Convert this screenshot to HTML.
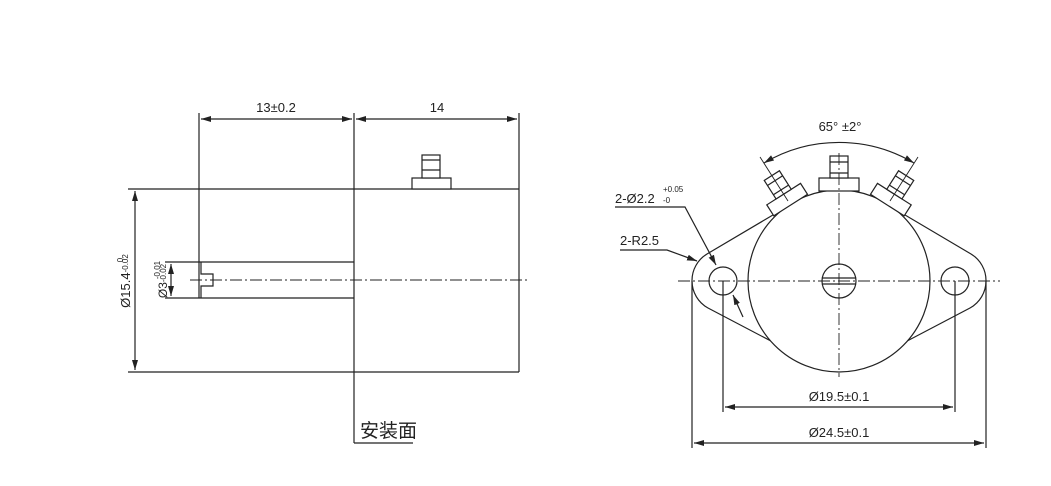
<!DOCTYPE html>
<html><head><meta charset="utf-8"><style>
html,body{margin:0;padding:0;background:#fff;}
svg{display:block;}
text{font-family:"Liberation Sans","Noto Sans CJK SC",sans-serif;fill:#222;}
</style></head><body>
<svg width="1051" height="486" viewBox="0 0 1051 486" xmlns="http://www.w3.org/2000/svg">
<defs>
<marker id="a" viewBox="0 0 10 6" refX="10" refY="3" markerWidth="10" markerHeight="6" orient="auto-start-reverse" markerUnits="userSpaceOnUse"><path d="M0,0 L10,3 L0,6 z" fill="#222"/></marker>
<g id="term">
<rect x="-20" y="-103" width="40" height="13" fill="#fff" stroke="#222" stroke-width="1.2"/>
<rect x="-9" y="-125" width="18" height="22" fill="#fff" stroke="#222" stroke-width="1.2"/>
<line x1="-9" y1="-119" x2="9" y2="-119" stroke="#222"/>
<line x1="-9" y1="-108" x2="9" y2="-108" stroke="#222"/>
</g>
</defs>
<g stroke="#222" stroke-width="1.2" fill="none">
<!-- left view -->
<line x1="199" y1="113" x2="199" y2="298"/>
<line x1="354" y1="113" x2="354" y2="443"/>
<line x1="519" y1="113" x2="519" y2="372"/>
<line x1="201" y1="119" x2="352" y2="119" marker-start="url(#a)" marker-end="url(#a)"/>
<line x1="356" y1="119" x2="517" y2="119" marker-start="url(#a)" marker-end="url(#a)"/>
<line x1="128" y1="189" x2="519" y2="189"/>
<line x1="128" y1="372" x2="519" y2="372"/>
<line x1="354" y1="443" x2="413" y2="443"/>
<rect x="412" y="178" width="39" height="11" fill="#fff"/>
<rect x="422" y="155" width="18" height="23" fill="#fff"/>
<line x1="422" y1="160" x2="440" y2="160"/>
<line x1="422" y1="170" x2="440" y2="170"/>
<line x1="165" y1="262" x2="354" y2="262"/>
<line x1="165" y1="298" x2="354" y2="298"/>
<path d="M201,262 V274 H213 V286 H201 V298"/>
<line x1="135" y1="191" x2="135" y2="370" marker-start="url(#a)" marker-end="url(#a)"/>
<line x1="171" y1="264" x2="171" y2="296" marker-start="url(#a)" marker-end="url(#a)"/>
<line x1="190" y1="280" x2="530" y2="280" stroke-width="0.9" stroke-dasharray="12,3,2,3"/>
<!-- right view -->
<path d="M692,281 A31,31 0 0 1 707,254 L778,212 L839,190 L900,212 L971,254 A31,31 0 0 1 986,281 A31,31 0 0 1 970,308 L890,350 L839,372 L788,350 L708,308 A31,31 0 0 1 692,281 Z" fill="#fff"/>
<circle cx="839" cy="281" r="91" fill="#fff"/>
<circle cx="723" cy="281" r="14"/>
<circle cx="955" cy="281" r="14"/>
<circle cx="839" cy="281" r="17"/>
<line x1="822" y1="278" x2="856" y2="278"/>
<line x1="822" y1="284" x2="856" y2="284"/>
<use href="#term" transform="translate(839,281)"/>
<use href="#term" transform="translate(839,281) rotate(-32.5)"/>
<use href="#term" transform="translate(839,281) rotate(32.5)"/>
<line x1="678" y1="281" x2="1000" y2="281" stroke-width="0.9" stroke-dasharray="12,3,2,3"/>
<line x1="839" y1="153" x2="839" y2="377" stroke-width="0.9" stroke-dasharray="12,3,2,3"/>
<line x1="788" y1="201" x2="760" y2="157" stroke-width="0.9"/>
<line x1="890" y1="201" x2="918" y2="157" stroke-width="0.9"/>
<path d="M764,163 A147,147 0 0 1 914,163" marker-start="url(#a)" marker-end="url(#a)"/>
<line x1="723" y1="281" x2="723" y2="412"/>
<line x1="955" y1="281" x2="955" y2="412"/>
<line x1="725" y1="407" x2="953" y2="407" marker-start="url(#a)" marker-end="url(#a)"/>
<line x1="692" y1="281" x2="692" y2="448"/>
<line x1="986" y1="281" x2="986" y2="448"/>
<line x1="694" y1="443" x2="984" y2="443" marker-start="url(#a)" marker-end="url(#a)"/>
<polyline points="615,207 685,207 716,265" marker-end="url(#a)"/>
<polyline points="620,250 667,250 697,261" marker-end="url(#a)"/>
<line x1="743" y1="317" x2="733" y2="295" marker-end="url(#a)"/>
</g>
<text x="276" y="112" font-size="13" text-anchor="middle">13±0.2</text>
<text x="437" y="112" font-size="13" text-anchor="middle">14</text>
<text transform="translate(130,281) rotate(-90)" font-size="13" text-anchor="middle">Ø15.4<tspan font-size="8" dy="-2">-0.02</tspan></text>
<text transform="translate(123,260) rotate(-90)" font-size="8" text-anchor="middle">0</text>
<text transform="translate(167,281) rotate(-90)" font-size="12" text-anchor="middle">Ø3<tspan font-size="8" dy="-1">-0.02</tspan></text>
<text transform="translate(160,270) rotate(-90)" font-size="8" text-anchor="middle">-0.01</text>
<text x="360" y="437" font-size="19">安装面</text>
<text x="840" y="131" font-size="13" text-anchor="middle">65° ±2°</text>
<text x="615" y="203" font-size="13">2-Ø2.2</text>
<text x="663" y="192" font-size="8">+0.05</text>
<text x="663" y="203" font-size="8">-0</text>
<text x="620" y="245" font-size="13">2-R2.5</text>
<text x="839" y="401" font-size="13" text-anchor="middle">Ø19.5±0.1</text>
<text x="839" y="437" font-size="13" text-anchor="middle">Ø24.5±0.1</text>
</svg>
</body></html>
